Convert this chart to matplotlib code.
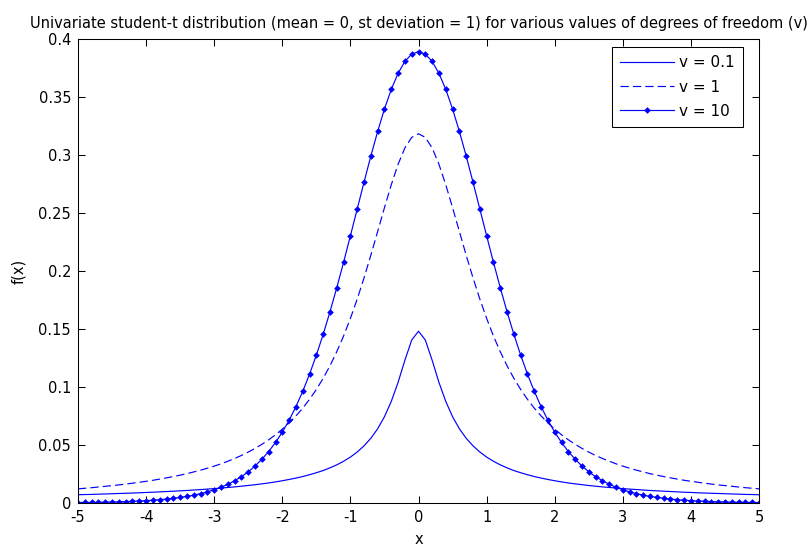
import numpy as np
import matplotlib
matplotlib.use("Agg")
import matplotlib.pyplot as plt

plt.rcParams['font.family'] = ['DejaVu Sans']
plt.rcParams['axes.unicode_minus'] = False

# grid de -5 a 5, pas de 0.1
x = np.arange(-50, 51) / 10

# densites
f_v01 = [
    0.0071, 0.0073, 0.0074, 0.0076, 0.0078, 0.0080, 0.0082, 0.0084, 0.0086, 0.0088,
    0.0091, 0.0093, 0.0096, 0.0099, 0.0102, 0.0105, 0.0108, 0.0112, 0.0116, 0.0120,
    0.0124, 0.0129, 0.0134, 0.0139, 0.0145, 0.0151, 0.0158, 0.0165, 0.0173, 0.0182,
    0.0192, 0.0203, 0.0215, 0.0228, 0.0244, 0.0261, 0.0280, 0.0303, 0.0329, 0.0360,
    0.0396, 0.0440, 0.0493, 0.0558, 0.0640, 0.0744, 0.0876, 0.1040, 0.1231, 0.1405,
    0.1481, 0.1405, 0.1231, 0.1040, 0.0876, 0.0744, 0.0640, 0.0558, 0.0493, 0.0440,
    0.0396, 0.0360, 0.0329, 0.0303, 0.0280, 0.0261, 0.0244, 0.0228, 0.0215, 0.0203,
    0.0192, 0.0182, 0.0173, 0.0165, 0.0158, 0.0151, 0.0145, 0.0139, 0.0134, 0.0129,
    0.0124, 0.0120, 0.0116, 0.0112, 0.0108, 0.0105, 0.0102, 0.0099, 0.0096, 0.0093,
    0.0091, 0.0088, 0.0086, 0.0084, 0.0082, 0.0080, 0.0078, 0.0076, 0.0074, 0.0073,
    0.0071]

f_v1 = [
    0.0122, 0.0127, 0.0132, 0.0138, 0.0144, 0.0150, 0.0156, 0.0163, 0.0171, 0.0179,
    0.0187, 0.0196, 0.0206, 0.0217, 0.0228, 0.0240, 0.0253, 0.0268, 0.0283, 0.0300,
    0.0318, 0.0338, 0.0360, 0.0384, 0.0410, 0.0439, 0.0471, 0.0506, 0.0545, 0.0588,
    0.0637, 0.0690, 0.0751, 0.0818, 0.0894, 0.0979, 0.1075, 0.1183, 0.1305, 0.1440,
    0.1592, 0.1759, 0.1941, 0.2136, 0.2341, 0.2546, 0.2744, 0.2920, 0.3061, 0.3152,
    0.3183, 0.3152, 0.3061, 0.2920, 0.2744, 0.2546, 0.2341, 0.2136, 0.1941, 0.1759,
    0.1592, 0.1440, 0.1305, 0.1183, 0.1075, 0.0979, 0.0894, 0.0818, 0.0751, 0.0690,
    0.0637, 0.0588, 0.0545, 0.0506, 0.0471, 0.0439, 0.0410, 0.0384, 0.0360, 0.0338,
    0.0318, 0.0300, 0.0283, 0.0268, 0.0253, 0.0240, 0.0228, 0.0217, 0.0206, 0.0196,
    0.0187, 0.0179, 0.0171, 0.0163, 0.0156, 0.0150, 0.0144, 0.0138, 0.0132, 0.0127,
    0.0122]

f_v10 = [
    0.0004, 0.0005, 0.0005, 0.0006, 0.0008, 0.0009, 0.0010, 0.0012, 0.0015, 0.0017,
    0.0020, 0.0024, 0.0029, 0.0034, 0.0040, 0.0048, 0.0057, 0.0068, 0.0081, 0.0096,
    0.0114, 0.0136, 0.0161, 0.0192, 0.0227, 0.0269, 0.0319, 0.0377, 0.0444, 0.0522,
    0.0611, 0.0714, 0.0831, 0.0963, 0.1111, 0.1275, 0.1454, 0.1649, 0.1857, 0.2076,
    0.2304, 0.2535, 0.2766, 0.2991, 0.3203, 0.3397, 0.3566, 0.3704, 0.3807, 0.3870,
    0.3891, 0.3870, 0.3807, 0.3704, 0.3566, 0.3397, 0.3203, 0.2991, 0.2766, 0.2535,
    0.2304, 0.2076, 0.1857, 0.1649, 0.1454, 0.1275, 0.1111, 0.0963, 0.0831, 0.0714,
    0.0611, 0.0522, 0.0444, 0.0377, 0.0319, 0.0269, 0.0227, 0.0192, 0.0161, 0.0136,
    0.0114, 0.0096, 0.0081, 0.0068, 0.0057, 0.0048, 0.0040, 0.0034, 0.0029, 0.0024,
    0.0020, 0.0017, 0.0015, 0.0012, 0.0010, 0.0009, 0.0008, 0.0006, 0.0005, 0.0005,
    0.0004]

labels = ['v = 0.1', 'v = 1', 'v = 10']
titre = ('Univariate student-t distribution (mean = 0, st deviation = 1) '
         'for various values of degrees of freedom (v)')

fig = plt.figure(figsize=(8.11, 5.51), dpi=100)
ax = fig.add_axes([0.0962, 0.0871, 0.8397, 0.8421])

bleu = (0, 0, 1)
ax.plot(x, f_v01, '-', color=bleu, lw=0.85, label=labels[0])
ax.plot(x, f_v1, '--', color=bleu, lw=0.85, dashes=(7, 3.5), label=labels[1])
ax.plot(x, f_v10, '-', color=bleu, lw=0.85, marker='D', markersize=3.4,
        markeredgewidth=0, label=labels[2])

ax.set_xlim(-5, 5)
ax.set_ylim(0, 0.4)
ax.set_xticks(np.arange(-5, 6, 1))
ax.set_yticks(np.arange(0, 0.401, 0.05))
ax.set_yticklabels(['0', '0.05', '0.1', '0.15', '0.2', '0.25', '0.3', '0.35', '0.4'])

ax.tick_params(direction='in', length=5, width=0.75, top=True, right=True,
               labelsize=10.5, colors='black')
ax.tick_params(axis='x', pad=5)
ax.tick_params(axis='y', pad=5)
for s in ax.spines.values():
    s.set_linewidth(0.75)

ax.set_xlabel('x', fontsize=10.5, labelpad=5)
ax.set_ylabel('f(x)', fontsize=10.5, labelpad=9)
ax.set_title(titre, fontsize=10.5, pad=8)

leg = ax.legend(loc='upper right', bbox_to_anchor=(0.9765, 0.9828), borderaxespad=0,
                fancybox=False, edgecolor='black', framealpha=1, fontsize=11,
                handlelength=3.5, handletextpad=0.35, labelspacing=0.6,
                borderpad=0.55)
leg.get_frame().set_linewidth(0.75)

fig.savefig('out.png', dpi=100)
